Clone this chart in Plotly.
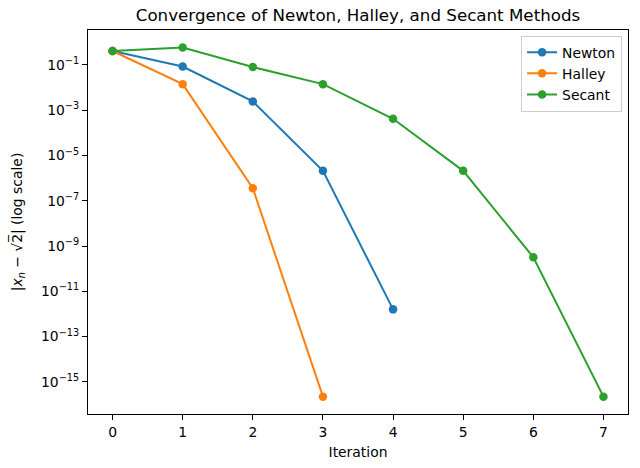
import plotly.graph_objects as go

iterations_newton = [0, 1, 2, 3, 4]
err_newton = [0.41421356, 0.08578644, 0.00245310, 2.1239e-06, 1.5947e-12]
iterations_halley = [0, 1, 2, 3]
err_halley = [0.41421356, 0.01421356, 3.6e-07, 2.22e-16]
iterations_secant = [0, 1, 2, 3, 4, 5, 6, 7]
err_secant = [0.41421356, 0.58578644, 0.08088023, 0.01421356, 4.2e-04, 2.1e-06, 3.2e-10, 2.22e-16]

ytick_vals = [1e-1, 1e-3, 1e-5, 1e-7, 1e-9, 1e-11, 1e-13, 1e-15]
ytick_text = ["10<sup>−%d</sup>" % e for e in [1, 3, 5, 7, 9, 11, 13, 15]]
xtick_vals = [0, 1, 2, 3, 4, 5, 6, 7]

colors = ["#1f77b4", "#ff7f0e", "#2ca02c"]
font = "DejaVu Sans"

fig = go.Figure()
for name, xs, ys, c in [("Newton", iterations_newton, err_newton, colors[0]),
                        ("Halley", iterations_halley, err_halley, colors[1]),
                        ("Secant", iterations_secant, err_secant, colors[2])]:
    fig.add_trace(go.Scatter(x=xs, y=ys, name=name, mode="lines+markers",
                             line=dict(color=c, width=2),
                             marker=dict(color=c, size=8.5)))

fig.update_layout(
    width=640, height=468,
    margin=dict(l=88, r=11, t=30, b=52),
    plot_bgcolor="white", paper_bgcolor="white",
    font=dict(family=font, size=13.9, color="black"),
    title=dict(text="Convergence of Newton, Halley, and Secant Methods",
               x=0.5, xref="paper", y=1 - 15.5/468, yref="container",
               yanchor="middle", font=dict(size=16.7)),
    showlegend=True,
    legend=dict(x=0.989, y=0.985, xanchor="right", yanchor="top",
                bordercolor="#cccccc", borderwidth=1, bgcolor="rgba(255,255,255,0.8)",
                font=dict(size=13.9), tracegroupgap=0, itemwidth=30),
)
fig.update_xaxes(range=[-0.35, 7.35], tickvals=xtick_vals, showgrid=False, zeroline=False,
                 showline=True, linecolor="black", linewidth=1.1, mirror=True,
                 ticks="outside", ticklen=5, tickwidth=1.1, tickcolor="black",
                 title=dict(text="Iteration", standoff=8, font=dict(size=13.9)))
fig.update_yaxes(type="log", range=[-16.42, 0.545], tickvals=ytick_vals, ticktext=ytick_text,
                 showgrid=False, zeroline=False,
                 showline=True, linecolor="black", linewidth=1.1, mirror=True,
                 ticks="outside", ticklen=5, tickwidth=1.1, tickcolor="black",
                 title=dict(text="|<i>x<sub>n</sub></i> − √2̅| (log scale)", standoff=15,
                            font=dict(size=13.9)))
fig.write_html("out.html")
